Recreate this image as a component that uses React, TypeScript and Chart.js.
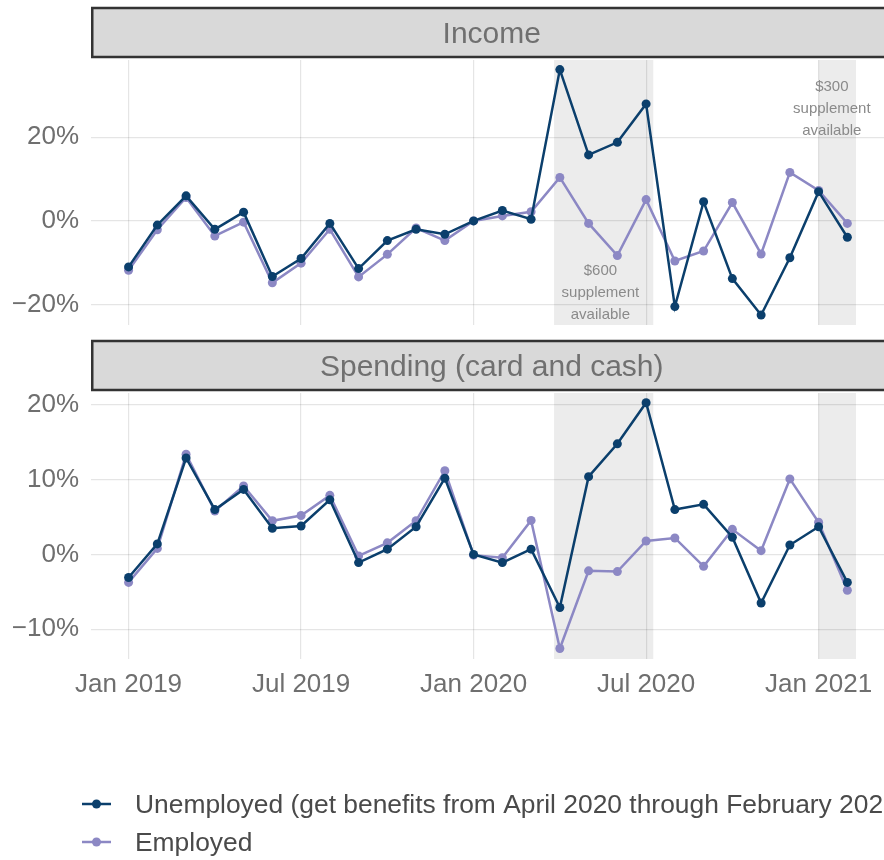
import React, { useEffect, useRef } from 'react';
import { Chart, registerables } from 'chart.js';

Chart.register(...registerables);

// ---------- data ----------
const months = [
  'Jan 2019', 'Feb 2019', 'Mar 2019', 'Apr 2019', 'May 2019', 'Jun 2019',
  'Jul 2019', 'Aug 2019', 'Sep 2019', 'Oct 2019', 'Nov 2019', 'Dec 2019',
  'Jan 2020', 'Feb 2020', 'Mar 2020', 'Apr 2020', 'May 2020', 'Jun 2020',
  'Jul 2020', 'Aug 2020', 'Sep 2020', 'Oct 2020', 'Nov 2020', 'Dec 2020',
  'Jan 2021', 'Feb 2021',
];

const xTickValues = [0, 6, 12, 18, 24];
const xTickLabels = ['Jan 2019', 'Jul 2019', 'Jan 2020', 'Jul 2020', 'Jan 2021'];

const seriesNames = [
  'Unemployed (get benefits from April 2020 through February 2021)',
  'Employed',
];

const incomeUnemployed = [
  -11.0, -1.0, 6.0, -2.0, 2.1, -13.3, -9.0, -0.6, -11.4, -4.7, -2.0, -3.2,
  0.0, 2.5, 0.4, 36.2, 15.8, 18.8, 28.0, -20.5, 4.6, -13.8, -22.5, -8.8,
  7.0, -3.9,
];
const incomeEmployed = [
  -11.8, -2.1, 5.6, -3.6, -0.3, -14.8, -10.1, -2.0, -13.4, -8.0, -1.7, -4.7,
  0.0, 1.2, 2.2, 10.4, -0.6, -8.3, 5.1, -9.6, -7.2, 4.4, -7.9, 11.6,
  7.3, -0.6,
];

const spendingUnemployed = [
  -3.1, 1.4, 12.9, 6.0, 8.7, 3.5, 3.8, 7.3, -1.1, 0.7, 3.7, 10.2,
  0.0, -1.1, 0.7, -7.1, 10.4, 14.8, 20.3, 6.0, 6.7, 2.3, -6.5, 1.25,
  3.7, -3.75,
];
const spendingEmployed = [
  -3.75, 0.8, 13.4, 5.8, 9.15, 4.5, 5.2, 7.9, -0.2, 1.55, 4.5, 11.2,
  -0.1, -0.45, 4.55, -12.6, -2.2, -2.3, 1.8, 2.2, -1.6, 3.35, 0.5, 10.1,
  4.3, -4.8,
];

const incomeTicks = [-20, 0, 20];
const spendingTicks = [-10, 0, 10, 20];

// supplement periods (in month-index units) and their notes
const shadeStart = [14.8, 24.0];
const shadeEnd = [18.25, 25.3];
const noteLines = [
  ['$600', 'supplement', 'available'],
  ['$300', 'supplement', 'available'],
];
const noteX = [16.41, 24.46];
const noteY = [-11.9, 32.0];

// ---------- styling ----------
const FONT = '"Liberation Sans", Arial, Helvetica, sans-serif';
const DARK = '#0b3f6c';
const LIGHT = '#8c88c4';
const GRID = 'rgba(0,0,0,0.10)';
const SHADE = '#ececec';
const TICK_COLOR = '#6f6f6f';
const X_MIN = -1.307;
const X_MAX = 26.57;
const AXIS_W = 91;
const CANVAS_W = 897;

const fmtPct = (v: number) => (v < 0 ? '\u2212' + Math.abs(v) : String(v)) + '%';

type Panel = {
  title: string;
  unemployed: number[];
  employed: number[];
  yMin: number;
  yMax: number;
  yTicks: number[];
  padTop: number;
  padBottom: number;
  xAxisHeight: number;
  showX: boolean;
  notes: boolean;
  legend: boolean;
};

function decorPlugin(p: Panel) {
  return {
    id: 'panelDecor',
    beforeDraw(chart: any) {
      const { ctx, chartArea: a, scales } = chart;
      const xs = scales.x;
      ctx.save();
      ctx.fillStyle = SHADE;
      shadeStart.forEach((s, i) => {
        const x0 = xs.getPixelForValue(s);
        const x1 = xs.getPixelForValue(shadeEnd[i]);
        ctx.fillRect(x0, a.top, x1 - x0, a.bottom - a.top);
      });
      // facet strip
      const top = a.top - 52;
      const bottom = a.top - 3;
      ctx.fillStyle = '#d9d9d9';
      ctx.fillRect(a.left, top, a.right - a.left + 20, bottom - top);
      ctx.strokeStyle = '#333333';
      ctx.lineWidth = 2.5;
      ctx.strokeRect(a.left + 1.25, top, a.right - a.left + 20, bottom - top);
      ctx.fillStyle = '#707070';
      ctx.font = `30px ${FONT}`;
      ctx.textAlign = 'center';
      ctx.textBaseline = 'alphabetic';
      ctx.fillText(p.title, (a.left + a.right) / 2, (top + bottom) / 2 + 10.7);
      ctx.restore();
    },
    afterDatasetsDraw(chart: any) {
      if (!p.notes) return;
      const { ctx, scales } = chart;
      ctx.save();
      ctx.font = `15px ${FONT}`;
      ctx.fillStyle = '#8a8a8a';
      ctx.textAlign = 'center';
      ctx.textBaseline = 'middle';
      noteLines.forEach((lines, i) => {
        const cx = scales.x.getPixelForValue(noteX[i]);
        const cy = scales.y.getPixelForValue(noteY[i]);
        lines.forEach((t, j) => ctx.fillText(t, cx, cy + j * 22));
      });
      ctx.restore();
    },
    afterDraw(chart: any) {
      if (!p.legend) return;
      const { ctx } = chart;
      const rows = [469, 507];
      const colors = [DARK, LIGHT];
      ctx.save();
      seriesNames.forEach((name, i) => {
        const y = rows[i];
        ctx.strokeStyle = colors[i];
        ctx.lineWidth = 2.5;
        ctx.beginPath();
        ctx.moveTo(82, y);
        ctx.lineTo(111, y);
        ctx.stroke();
        ctx.fillStyle = colors[i];
        ctx.beginPath();
        ctx.arc(96.5, y, 4.5, 0, Math.PI * 2);
        ctx.fill();
        ctx.fillStyle = '#4a4a4a';
        ctx.font = `26.4px ${FONT}`;
        ctx.textAlign = 'left';
        ctx.textBaseline = 'alphabetic';
        ctx.fillText(name, 135, y + 9.4);
      });
      ctx.restore();
    },
  };
}

function buildConfig(p: Panel): any {
  const ds = (label: string, vals: number[], color: string) => ({
    label,
    data: months.map((_, i) => ({ x: i, y: vals[i] })),
    borderColor: color,
    backgroundColor: color,
    borderWidth: 2.5,
    pointRadius: 4.5,
    pointHoverRadius: 4.5,
    pointBorderWidth: 0,
    tension: 0,
  });
  return {
    type: 'line',
    data: {
      datasets: [
        ds(seriesNames[0], p.unemployed, DARK),
        ds(seriesNames[1], p.employed, LIGHT),
      ],
    },
    options: {
      responsive: false,
      animation: false,
      events: [],
      layout: { padding: { top: p.padTop, bottom: p.padBottom, left: 0, right: 0 } },
      plugins: { legend: { display: false }, tooltip: { enabled: false } },
      scales: {
        x: {
          type: 'linear',
          min: X_MIN,
          max: X_MAX,
          afterBuildTicks: (s: any) => {
            s.ticks = xTickValues.map((v) => ({ value: v }));
          },
          afterFit: (s: any) => {
            s.height = p.xAxisHeight;
            s.paddingLeft = 0;
            s.paddingRight = 0;
            s.paddingTop = 0;
            s.paddingBottom = 0;
          },
          ticks: {
            display: p.showX,
            autoSkip: false,
            maxRotation: 0,
            padding: 10,
            color: TICK_COLOR,
            font: { family: FONT, size: 26 },
            callback: (v: number) => {
              const k = xTickValues.indexOf(v);
              return k >= 0 ? xTickLabels[k] : '';
            },
          },
          grid: { color: GRID, lineWidth: 1.2, drawTicks: false },
          border: { display: false },
        },
        y: {
          type: 'linear',
          min: p.yMin,
          max: p.yMax,
          afterBuildTicks: (s: any) => {
            s.ticks = p.yTicks.map((v) => ({ value: v }));
          },
          afterFit: (s: any) => {
            s.width = AXIS_W;
            s.paddingLeft = 0;
            s.paddingRight = 0;
            s.paddingTop = 0;
            s.paddingBottom = 0;
          },
          ticks: {
            padding: 12,
            color: TICK_COLOR,
            font: { family: FONT, size: 26 },
            callback: (v: number) => fmtPct(v),
          },
          grid: { color: GRID, lineWidth: 1.2, drawTicks: false },
          border: { display: false },
        },
      },
    },
    plugins: [decorPlugin(p)],
  };
}

const incomePanel: Panel = {
  title: 'Income',
  unemployed: incomeUnemployed,
  employed: incomeEmployed,
  yMin: -24.9,
  yMax: 38.5,
  yTicks: incomeTicks,
  padTop: 60,
  padBottom: 10,
  xAxisHeight: 0,
  showX: false,
  notes: true,
  legend: false,
};

const spendingPanel: Panel = {
  title: 'Spending (card and cash)',
  unemployed: spendingUnemployed,
  employed: spendingEmployed,
  yMin: -14.0,
  yMax: 21.6,
  yTicks: spendingTicks,
  padTop: 58,
  padBottom: 161,
  xAxisHeight: 40,
  showX: true,
  notes: false,
  legend: true,
};

function PanelChart({ panel, height }: { panel: Panel; height: number }) {
  const ref = useRef<HTMLCanvasElement | null>(null);
  useEffect(() => {
    if (!ref.current) return;
    const chart = new Chart(ref.current, buildConfig(panel));
    return () => chart.destroy();
  }, [panel]);
  return (
    <canvas
      ref={ref}
      width={CANVAS_W}
      height={height}
      style={{ display: 'block', width: CANVAS_W, height }}
    />
  );
}

export default function App() {
  return (
    <div
      style={{
        position: 'absolute',
        left: 0,
        top: 0,
        width: 884,
        height: 860,
        overflow: 'hidden',
        background: '#ffffff',
      }}
    >
      <PanelChart panel={incomePanel} height={335} />
      <PanelChart panel={spendingPanel} height={525} />
    </div>
  );
}
